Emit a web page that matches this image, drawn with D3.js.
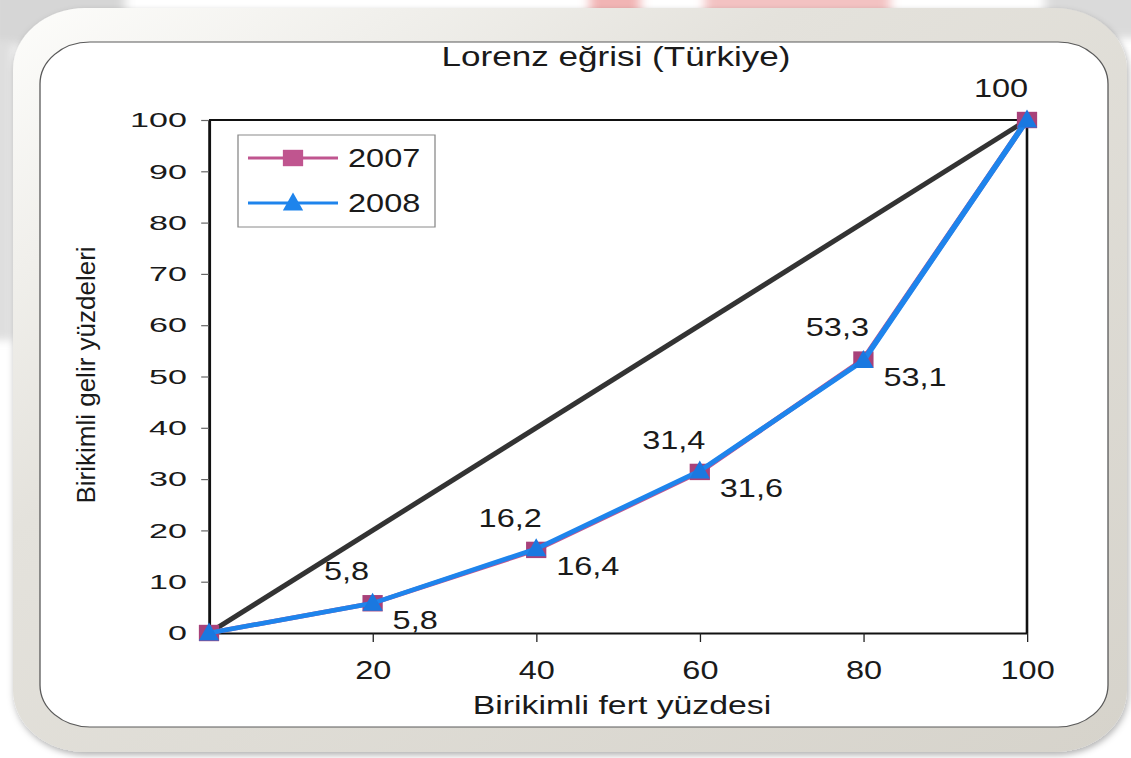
<!DOCTYPE html>
<html>
<head>
<meta charset="utf-8">
<script src="https://cdn.jsdelivr.net/npm/d3@7"></script>
<style>
  html, body { margin: 0; padding: 0; background: #fff; }
  svg { display: block; }
  text { font-family: "Liberation Sans", Arial, sans-serif; fill: #1a1a1a; }
</style>
</head>
<body>
<svg id="chart" width="1131" height="758" viewBox="0 0 870 758" preserveAspectRatio="none"></svg>
<script>
// Lorenz curve data (cumulative % of population vs cumulative % of income)
const title = "Lorenz eğrisi (Türkiye)";
const xTitle = "Birikimli fert yüzdesi";
const yTitle = "Birikimli gelir yüzdeleri";

const population = [0, 20, 40, 60, 80, 100];
const income2007 = [0, 5.8, 16.2, 31.4, 53.3, 100];
const income2008 = [0, 5.8, 16.4, 31.6, 53.1, 100];
const equalityX = [0, 100];
const equalityY = [0, 100];
const years = ["2007", "2008"];

const xTicks = [20, 40, 60, 80, 100];
const yTicks = [0, 10, 20, 30, 40, 50, 60, 70, 80, 90, 100];

// the original figure is stretched sideways, so draw in a narrower
// coordinate space and let the viewBox widen it
const W = 870, K = 1131 / W;
const px = v => v / K;

const svg = d3.select('#chart');
const defs = svg.append('defs');

// faint slide background behind the frame
const blur = defs.append('filter').attr('id', 'blur')
    .attr('x', '-20%').attr('y', '-20%').attr('width', '140%').attr('height', '140%');
blur.append('feGaussianBlur').attr('stdDeviation', 4);

const bg = svg.append('g').attr('filter', 'url(#blur)');
bg.append('rect').attr('x', px(-10)).attr('y', -10).attr('width', px(135)).attr('height', 55).attr('fill', '#d6d6d6');
bg.append('rect').attr('x', px(-10)).attr('y', 40).attr('width', px(24)).attr('height', 300).attr('fill', '#dedede');
bg.append('rect').attr('x', px(590)).attr('y', -10).attr('width', px(50)).attr('height', 30).attr('fill', '#f1b4b4');
bg.append('rect').attr('x', px(705)).attr('y', -10).attr('width', px(185)).attr('height', 36).attr('fill', '#f3c2c2');
bg.append('rect').attr('x', px(1045)).attr('y', -10).attr('width', px(100)).attr('height', 48).attr('fill', '#dadada');

// rounded frame
const frameGrad = defs.append('linearGradient').attr('id', 'frameGrad')
    .attr('x1', '0').attr('y1', '0').attr('x2', '1').attr('y2', '1');
frameGrad.append('stop').attr('offset', '0').attr('stop-color', '#fdfdfb');
frameGrad.append('stop').attr('offset', '0.35').attr('stop-color', '#e4e2dc');
frameGrad.append('stop').attr('offset', '1').attr('stop-color', '#d6d3cb');

const shadow = defs.append('filter').attr('id', 'shadow')
    .attr('x', '-5%').attr('y', '-5%').attr('width', '110%').attr('height', '112%');
shadow.append('feDropShadow').attr('dx', 1).attr('dy', 3).attr('stdDeviation', 3)
    .attr('flood-color', '#000').attr('flood-opacity', 0.3);

svg.append('rect')
    .attr('x', px(13)).attr('y', 8)
    .attr('width', px(1127 - 13)).attr('height', 752 - 8)
    .attr('rx', px(72)).attr('ry', 62)
    .attr('fill', 'url(#frameGrad)')
    .attr('filter', 'url(#shadow)');

svg.append('rect')
    .attr('x', px(40)).attr('y', 42)
    .attr('width', px(1108 - 40)).attr('height', 727 - 42)
    .attr('rx', px(50)).attr('ry', 42)
    .attr('fill', '#fff')
    .attr('stroke', '#5a5a5a')
    .attr('stroke-width', 1);

// scales
const x = d3.scaleLinear().domain([0, 100]).range([px(209), px(1027)]);
const y = d3.scaleLinear().domain([0, 100]).range([633, 120]);

// title
svg.append('text')
    .attr('x', px(616)).attr('y', 66)
    .attr('text-anchor', 'middle')
    .style('font-size', '27px')
    .text(title);

// axis titles
svg.append('text')
    .attr('x', px(622)).attr('y', 714)
    .attr('text-anchor', 'middle')
    .style('font-size', '26px')
    .text(xTitle);

svg.append('text')
    .attr('transform', `translate(${px(95)}, 375) scale(${1 / K}, 1) rotate(-90)`)
    .attr('text-anchor', 'middle')
    .style('font-size', '26px')
    .text(yTitle);

// y axis
const yAxis = svg.append('g')
    .attr('transform', `translate(${x(0)}, 0)`)
    .call(d3.axisLeft(y).tickValues(yTicks).tickSize(6).tickSizeOuter(0).tickPadding(0));
yAxis.select('.domain').attr('stroke', '#111').attr('stroke-width', 2.2);
yAxis.selectAll('.tick line').attr('stroke', '#666').attr('stroke-width', 1.2);
// tick labels in the picture are wider than the rest of the text
yAxis.selectAll('.tick text')
    .attr('x', 0)
    .attr('transform', `translate(${px(-22)}, 0) scale(1.25, 1)`)
    .style('font-size', '21px')
    .attr('fill', '#1a1a1a');

// x axis
const xAxis = svg.append('g')
    .attr('transform', `translate(0, ${y(0)})`)
    .call(d3.axisBottom(x).tickValues(xTicks).tickSize(9).tickSizeOuter(0).tickPadding(19));
xAxis.select('.domain').attr('stroke', '#111').attr('stroke-width', 2.2);
xAxis.selectAll('.tick line').attr('stroke', '#222').attr('stroke-width', 1);
xAxis.selectAll('.tick text')
    .style('font-size', '25px')
    .attr('fill', '#1a1a1a');

// top and right border of the plot area
svg.append('path')
    .attr('d', `M${x(0)},${y(100)}H${x(100)}V${y(0)}`)
    .attr('fill', 'none')
    .attr('stroke', '#111')
    .attr('stroke-width', 2);

// line of equality
const eq = equalityX.map((v, i) => [v, equalityY[i]]);
svg.append('path')
    .datum(eq)
    .attr('d', d3.line().x(d => x(d[0])).y(d => y(d[1])))
    .attr('fill', 'none')
    .attr('stroke', '#333')
    .attr('stroke-width', 4.6);

const series = [
    { name: years[0], values: income2007, color: '#c0558f', markColor: '#a8427a', marker: 'square', labelPos: 'above' },
    { name: years[1], values: income2008, color: '#1e84ec', markColor: '#1a78e0', marker: 'triangle', labelPos: 'below' }
];

function markerPath(type) {
    if (type === 'square') return 'M-7.8,-8.2H7.8V8.2H-7.8Z';
    return 'M0,-10.5L7.8,7.5H-7.8Z';
}

const decimal = d3.formatLocale({ decimal: ',', thousands: '.', grouping: [3], currency: ['', ''] }).format('.1f');
const fmt = v => Number.isInteger(v) ? String(v) : decimal(v);

const line = d3.line().x((d, i) => x(population[i])).y(d => y(d));

series.forEach(s => {
    svg.append('path')
        .datum(s.values)
        .attr('d', line)
        .attr('fill', 'none')
        .attr('stroke', s.color)
        .attr('stroke-width', 4.6)
        .attr('stroke-linejoin', 'round');

    svg.append('g').selectAll('path')
        .data(s.values)
        .enter()
        .append('path')
        .attr('transform', (d, i) => `translate(${x(population[i])}, ${y(d)})`)
        .attr('d', markerPath(s.marker))
        .attr('fill', s.markColor);
});

// data labels: 2007 above-left, 2008 below-right
series.forEach(s => {
    const shown = s.values
        .map((v, i) => ({ v, i }))
        .filter(d => d.v > 0 && (s.labelPos === 'above' || d.v < 100));
    svg.append('g').selectAll('text')
        .data(shown)
        .enter()
        .append('text')
        .attr('x', d => x(population[d.i]) + (s.labelPos === 'above' ? px(-26) : px(20)))
        .attr('y', d => y(d.v) + (s.labelPos === 'above' ? -32 : 17))
        .attr('dy', '0.35em')
        .attr('text-anchor', s.labelPos === 'above' ? 'middle' : 'start')
        .style('font-size', '25px')
        .text(d => fmt(d.v));
});

// legend
const legend = svg.append('g');
legend.append('rect')
    .attr('x', px(238)).attr('y', 135)
    .attr('width', px(435 - 238)).attr('height', 92)
    .attr('fill', '#fff')
    .attr('stroke', '#8a8a8a')
    .attr('stroke-width', 1);

series.forEach((s, i) => {
    const ly = 158 + i * 45;
    legend.append('line')
        .attr('x1', px(248)).attr('x2', px(338))
        .attr('y1', ly).attr('y2', ly)
        .attr('stroke', s.color)
        .attr('stroke-width', 3.2);
    legend.append('path')
        .attr('transform', `translate(${px(293)}, ${ly})`)
        .attr('d', markerPath(s.marker))
        .attr('fill', s.color);
    legend.append('text')
        .attr('x', px(348)).attr('y', ly)
        .attr('dy', '0.35em')
        .style('font-size', '25px')
        .text(s.name);
});
</script>
</body>
</html>
